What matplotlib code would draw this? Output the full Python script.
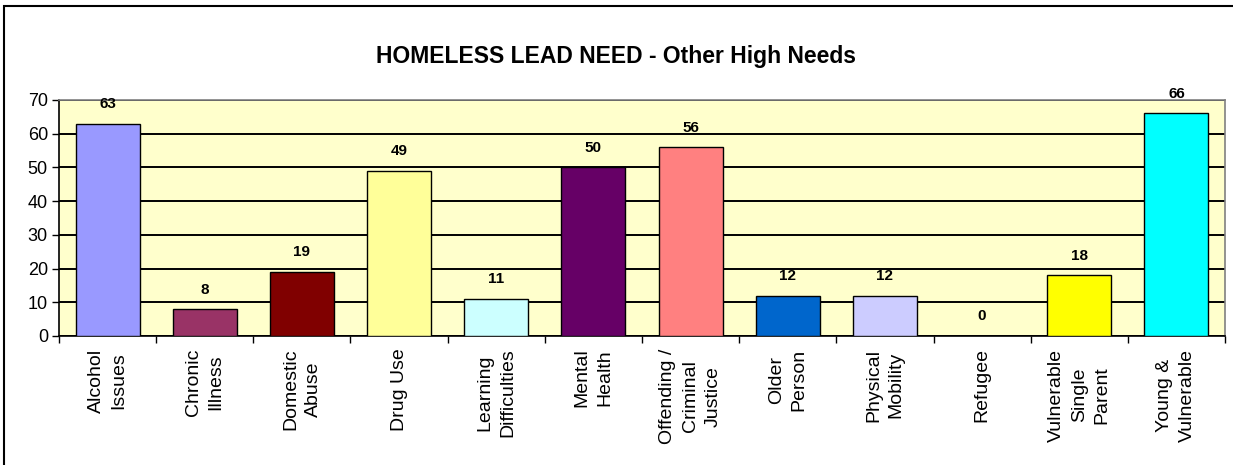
import matplotlib
matplotlib.use("Agg")
import matplotlib.pyplot as plt
from matplotlib.patches import Rectangle
import numpy as np

plt.rcParams['font.family'] = ['Liberation Sans', 'DejaVu Sans']

categories = [
    "Alcohol\nIssues", "Chronic\nIllness", "Domestic\nAbuse", "Drug Use",
    "Learning\nDifficulties", "Mental\nHealth", "Offending /\nCriminal\nJustice",
    "Older\nPerson", "Physical\nMobility", "Refugee", "Vulnerable\nSingle\nParent",
    "Young &\nVulnerable",
]
values = [63, 8, 19, 49, 11, 50, 56, 12, 12, 0, 18, 66]
colors = ["#9999FF", "#993366", "#800000", "#FFFF99", "#CCFFFF", "#660066",
          "#FF8080", "#0066CC", "#CCCCFF", "#000080", "#FFFF00", "#00FFFF"]
yticks = [0, 10, 20, 30, 40, 50, 60, 70]
title = "HOMELESS LEAD NEED - Other High Needs"

W, H = 1233, 465
fig = plt.figure(figsize=(W / 100, H / 100), dpi=100)
fig.patch.set_facecolor("white")

# outer chart frame
fig.patches.append(Rectangle((4 / W, -0.05), 1.2, (H - 6) / H + 0.05,
                             transform=fig.transFigure, fill=False,
                             edgecolor="black", linewidth=1.5))

left, right, top, bottom = 59, 1225, 100, 336
ax = fig.add_axes([left / W, 1 - bottom / H, (right - left) / W, (bottom - top) / H])
ax.set_facecolor("#FFFFCC")

x = np.arange(len(values))
ax.set_xlim(-0.5, len(values) - 0.5)
ax.set_ylim(0, 70)

ax.set_yticks(yticks)
ax.yaxis.grid(True, color="black", linewidth=1.4)
ax.set_axisbelow(True)

bars = ax.bar(x, values, width=0.66, color=colors, edgecolor="black",
              linewidth=1.0, zorder=3)
for xi, v in zip(x, values):
    ax.annotate(str(v), (xi, v), xytext=(0, 9), textcoords="offset points",
                ha="center", va="bottom", fontsize=11, fontweight="bold")

ax.set_xticks(x)
ax.set_xticklabels(categories, rotation=90, fontsize=14, va="top", ha="center",
                   linespacing=1.45)
ax.tick_params(axis="x", which="major", length=0, pad=9)
ax.set_xticks(np.arange(-0.5, len(values), 1.0), minor=True)
ax.tick_params(axis="x", which="minor", length=5, width=1, direction="out", color="black")
ax.tick_params(axis="y", length=5, width=1, direction="out", labelsize=13, pad=3)

for s in ["top", "right"]:
    ax.spines[s].set_color("#808080")
    ax.spines[s].set_linewidth(1.2)
for s in ["left", "bottom"]:
    ax.spines[s].set_color("black")
    ax.spines[s].set_linewidth(1.2)

fig.text(616 / W, 1 - 56 / H, title, ha="center", va="center",
         fontsize=16.5, fontweight="bold")

fig.savefig("out.png", dpi=100)
